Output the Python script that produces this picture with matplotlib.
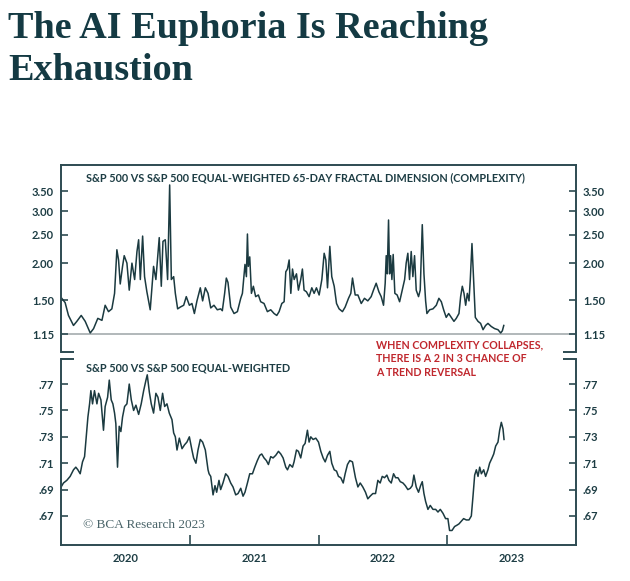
import numpy as np
import matplotlib.pyplot as plt
from matplotlib.ticker import FixedLocator, FixedFormatter, NullLocator

# 65-day fractal dimension (complexity), x in decimal years
fd_years = [2020.006, 2020.032, 2020.058, 2020.097, 2020.123, 2020.157, 2020.188, 2020.227,
            2020.253, 2020.286, 2020.318, 2020.343, 2020.369, 2020.395, 2020.416, 2020.434,
            2020.447, 2020.460, 2020.478, 2020.491, 2020.512, 2020.530, 2020.551, 2020.572,
            2020.590, 2020.603, 2020.616, 2020.634, 2020.649, 2020.667, 2020.693, 2020.719,
            2020.737, 2020.763, 2020.779, 2020.792, 2020.810, 2020.828, 2020.844, 2020.857,
            2020.875, 2020.888, 2020.906, 2020.927, 2020.953, 2020.973, 2020.997, 2021.017,
            2021.036, 2021.056, 2021.082, 2021.100, 2021.121, 2021.142, 2021.163, 2021.188,
            2021.214, 2021.240, 2021.253, 2021.271, 2021.284, 2021.297, 2021.318, 2021.344,
            2021.370, 2021.396, 2021.409, 2021.429, 2021.440, 2021.448, 2021.455, 2021.466,
            2021.479, 2021.494, 2021.512, 2021.533, 2021.551, 2021.577, 2021.603, 2021.629,
            2021.655, 2021.676, 2021.694, 2021.715, 2021.733, 2021.746, 2021.759, 2021.772,
            2021.785, 2021.798, 2021.811, 2021.829, 2021.844, 2021.862, 2021.875, 2021.888,
            2021.906, 2021.927, 2021.948, 2021.966, 2021.984, 2022.005, 2022.026, 2022.044,
            2022.057, 2022.070, 2022.088, 2022.103, 2022.122, 2022.140, 2022.160, 2022.186,
            2022.207, 2022.233, 2022.251, 2022.264, 2022.285, 2022.306, 2022.332, 2022.357,
            2022.383, 2022.409, 2022.427, 2022.448, 2022.469, 2022.487, 2022.505, 2022.518,
            2022.526, 2022.534, 2022.544, 2022.552, 2022.560, 2022.570, 2022.580, 2022.593,
            2022.611, 2022.630, 2022.650, 2022.669, 2022.681, 2022.694, 2022.707, 2022.720,
            2022.733, 2022.746, 2022.759, 2022.777, 2022.790, 2022.806, 2022.819, 2022.832,
            2022.842, 2022.863, 2022.889, 2022.915, 2022.935, 2022.954, 2022.972, 2022.992,
            2023.011, 2023.031, 2023.052, 2023.070, 2023.091, 2023.104, 2023.117, 2023.130,
            2023.143, 2023.156, 2023.169, 2023.179, 2023.192, 2023.205, 2023.218, 2023.239,
            2023.259, 2023.278, 2023.298, 2023.316, 2023.342, 2023.368, 2023.394, 2023.415,
            2023.428, 2023.439]
fd_values = [1.52, 1.47, 1.33, 1.23, 1.27, 1.33, 1.27, 1.16,
             1.20, 1.30, 1.28, 1.44, 1.37, 1.40, 1.58, 2.22,
             2.05, 1.70, 1.95, 2.12, 2.00, 1.62, 2.00, 1.76,
             2.19, 2.40, 1.76, 2.47, 1.80, 1.60, 1.39, 1.95,
             1.76, 2.44, 1.67, 2.37, 2.40, 1.76, 3.68, 1.76,
             1.80, 1.58, 1.40, 1.42, 1.44, 1.54, 1.44, 1.46,
             1.35, 1.49, 1.65, 1.49, 1.65, 1.58, 1.41, 1.44,
             1.39, 1.40, 1.38, 1.58, 1.78, 1.72, 1.42, 1.35,
             1.37, 1.52, 1.58, 1.98, 1.80, 2.51, 1.95, 2.10,
             1.58, 1.67, 1.54, 1.56, 1.48, 1.46, 1.37, 1.39,
             1.35, 1.33, 1.37, 1.46, 1.48, 1.87, 1.91, 2.05,
             1.58, 1.91, 1.76, 1.84, 1.62, 1.76, 1.91, 1.62,
             1.60, 1.54, 1.65, 1.58, 1.65, 1.56, 1.76, 2.16,
             2.05, 1.65, 2.28, 1.80, 1.67, 1.46, 1.40, 1.37,
             1.42, 1.52, 1.58, 1.78, 1.56, 1.56, 1.46, 1.52,
             1.49, 1.54, 1.62, 1.71, 1.60, 1.54, 1.44, 1.71,
             2.12, 1.84, 2.80, 1.84, 2.12, 1.76, 2.14, 1.58,
             1.56, 1.48, 1.62, 1.76, 2.00, 2.16, 1.76, 2.19,
             1.80, 2.12, 1.62, 1.54, 1.62, 2.70, 1.84, 1.49,
             1.35, 1.39, 1.40, 1.44, 1.52, 1.48, 1.39, 1.31,
             1.35, 1.31, 1.27, 1.30, 1.35, 1.54, 1.67, 1.58,
             1.44, 1.58, 1.49, 1.76, 2.33, 1.76, 1.31, 1.27,
             1.25, 1.19, 1.23, 1.25, 1.22, 1.20, 1.19, 1.16,
             1.18, 1.23]

# S&P 500 vs S&P 500 equal-weighted (relative level)
rel_years = [2020.001, 2020.019, 2020.045, 2020.071, 2020.097, 2020.115, 2020.131, 2020.149,
             2020.167, 2020.183, 2020.196, 2020.209, 2020.222, 2020.232, 2020.245, 2020.260,
             2020.279, 2020.292, 2020.310, 2020.330, 2020.343, 2020.362, 2020.375, 2020.390,
             2020.403, 2020.416, 2020.426, 2020.439, 2020.452, 2020.465, 2020.478, 2020.494,
             2020.512, 2020.530, 2020.546, 2020.564, 2020.582, 2020.603, 2020.623, 2020.642,
             2020.660, 2020.670, 2020.686, 2020.701, 2020.719, 2020.737, 2020.753, 2020.771,
             2020.789, 2020.805, 2020.823, 2020.841, 2020.862, 2020.875, 2020.888, 2020.901,
             2020.919, 2020.940, 2020.960, 2020.978, 2020.997, 2021.017, 2021.030, 2021.048,
             2021.064, 2021.082, 2021.100, 2021.121, 2021.142, 2021.150, 2021.163, 2021.181,
             2021.196, 2021.209, 2021.227, 2021.240, 2021.258, 2021.279, 2021.297, 2021.318,
             2021.336, 2021.357, 2021.375, 2021.396, 2021.414, 2021.429, 2021.448, 2021.466,
             2021.487, 2021.505, 2021.525, 2021.544, 2021.559, 2021.577, 2021.595, 2021.611,
             2021.629, 2021.647, 2021.668, 2021.689, 2021.707, 2021.725, 2021.746, 2021.759,
             2021.777, 2021.798, 2021.810, 2021.829, 2021.844, 2021.862, 2021.880, 2021.896,
             2021.914, 2021.927, 2021.940, 2021.958, 2021.979, 2022.000, 2022.018, 2022.036,
             2022.052, 2022.070, 2022.088, 2022.103, 2022.122, 2022.140, 2022.155, 2022.173,
             2022.192, 2022.207, 2022.225, 2022.243, 2022.264, 2022.287, 2022.306, 2022.324,
             2022.344, 2022.365, 2022.383, 2022.401, 2022.422, 2022.443, 2022.461, 2022.479,
             2022.495, 2022.513, 2022.531, 2022.547, 2022.565, 2022.583, 2022.599, 2022.617,
             2022.635, 2022.656, 2022.674, 2022.694, 2022.713, 2022.728, 2022.741, 2022.759,
             2022.777, 2022.793, 2022.806, 2022.819, 2022.832, 2022.850, 2022.868, 2022.889,
             2022.910, 2022.928, 2022.946, 2022.967, 2022.987, 2023.005, 2023.018, 2023.037,
             2023.057, 2023.075, 2023.091, 2023.109, 2023.127, 2023.148, 2023.169, 2023.187,
             2023.200, 2023.213, 2023.226, 2023.239, 2023.252, 2023.265, 2023.283, 2023.298,
             2023.316, 2023.329, 2023.348, 2023.361, 2023.376, 2023.394, 2023.407, 2023.420,
             2023.433, 2023.441]
rel_values = [0.692, 0.695, 0.697, 0.700, 0.705, 0.707, 0.705, 0.702,
              0.711, 0.715, 0.730, 0.745, 0.755, 0.765, 0.755, 0.765,
              0.755, 0.763, 0.758, 0.735, 0.753, 0.760, 0.773, 0.758,
              0.755, 0.748, 0.740, 0.707, 0.738, 0.734, 0.745, 0.753,
              0.755, 0.770, 0.758, 0.750, 0.754, 0.747, 0.755, 0.765,
              0.773, 0.777, 0.764, 0.755, 0.748, 0.763, 0.760, 0.750,
              0.763, 0.753, 0.755, 0.748, 0.743, 0.733, 0.730, 0.720,
              0.729, 0.721, 0.724, 0.726, 0.730, 0.720, 0.714, 0.710,
              0.720, 0.728, 0.726, 0.720, 0.705, 0.702, 0.700, 0.686,
              0.693, 0.688, 0.697, 0.690, 0.695, 0.702, 0.700, 0.695,
              0.692, 0.686, 0.687, 0.691, 0.685, 0.688, 0.695, 0.702,
              0.702, 0.707, 0.712, 0.716, 0.717, 0.714, 0.712, 0.709,
              0.715, 0.714, 0.716, 0.719, 0.717, 0.714, 0.707, 0.705,
              0.709, 0.707, 0.711, 0.720, 0.719, 0.714, 0.723, 0.725,
              0.735, 0.726, 0.730, 0.728, 0.729, 0.726, 0.719, 0.714,
              0.711, 0.716, 0.719, 0.710, 0.705, 0.704, 0.700, 0.699,
              0.695, 0.702, 0.709, 0.712, 0.711, 0.699, 0.692, 0.695,
              0.692, 0.688, 0.683, 0.685, 0.687, 0.687, 0.697, 0.695,
              0.700, 0.699, 0.701, 0.697, 0.695, 0.702, 0.699, 0.699,
              0.696, 0.695, 0.693, 0.690, 0.691, 0.693, 0.701, 0.692,
              0.688, 0.693, 0.696, 0.687, 0.681, 0.675, 0.678, 0.675,
              0.675, 0.673, 0.675, 0.672, 0.668, 0.668, 0.659, 0.659,
              0.662, 0.663, 0.664, 0.666, 0.668, 0.667, 0.667, 0.670,
              0.685, 0.701, 0.705, 0.700, 0.707, 0.702, 0.705, 0.700,
              0.705, 0.710, 0.714, 0.717, 0.723, 0.726, 0.735, 0.741,
              0.736, 0.728]

fd_ticks = [1.15, 1.50, 2.00, 2.50, 3.00, 3.50]
fd_labels = ['1.15', '1.50', '2.00', '2.50', '3.00', '3.50']
rel_ticks = [0.67, 0.69, 0.71, 0.73, 0.75, 0.77]
rel_labels = ['.67', '.69', '.71', '.73', '.75', '.77']
year_breaks = [2021, 2022, 2023]
year_mids = [2020.5, 2021.5, 2022.5, 2023.5]
year_labels = ['2020', '2021', '2022', '2023']

TEAL = '#1d3d44'
AXC = '#2d4b52'
LINE = '#1b3a40'
RED = '#c0272d'
GREY = '#a4acae'
SANS = 'Lato'

W, H = 630, 581
fig = plt.figure(figsize=(W / 100, H / 100), dpi=100)
fig.patch.set_facecolor('white')


def fpos(x, y):
    return x / W, 1 - y / H


# headline, two lines
for txt, base in (('The AI Euphoria Is Reaching', 38), ('Exhaustion', 80)):
    fig.text(*fpos(8, base), txt, fontsize=27.5, fontfamily='Liberation Serif',
             fontweight='bold', color='#143a43', va='baseline', ha='left')

ax1 = fig.add_axes([61 / W, 1 - 352 / H, 515 / W, 187 / H])
ax2 = fig.add_axes([61 / W, 1 - 545 / H, 515 / W, 186 / H])

ax1.plot(fd_years, fd_values, color=LINE, lw=1.1)
ax1.axhline(1.15, color=GREY, lw=1.2, zorder=0)
ax1.set_yscale('log')
ax1.set_ylim(1.0, 4.3)

ax2.plot(rel_years, rel_values, color=LINE, lw=1.1)
ax2.set_ylim(0.648, 0.789)

for ax in (ax1, ax2):
    ax.set_xlim(2020, 2024)
    for s in ax.spines.values():
        s.set_color(AXC)
        s.set_linewidth(1.4)
    ax.tick_params(axis='y', which='both', direction='in', length=5, width=1.2,
                   color=AXC, labelcolor=TEAL, labelsize=8, left=True, right=True,
                   labelleft=True, labelright=True, pad=5)

ax1.yaxis.set_major_locator(FixedLocator(fd_ticks))
ax1.yaxis.set_major_formatter(FixedFormatter(fd_labels))
ax1.yaxis.set_minor_locator(NullLocator())
ax1.xaxis.set_major_locator(NullLocator())
ax1.xaxis.set_minor_locator(NullLocator())
ax1.spines['bottom'].set_visible(False)

ax2.yaxis.set_major_locator(FixedLocator(rel_ticks))
ax2.yaxis.set_major_formatter(FixedFormatter(rel_labels))
ax2.spines['top'].set_visible(False)
ax2.xaxis.set_major_locator(FixedLocator(year_breaks))
ax2.xaxis.set_major_formatter(FixedFormatter(['', '', '']))
ax2.xaxis.set_minor_locator(FixedLocator(year_mids))
ax2.xaxis.set_minor_formatter(FixedFormatter(year_labels))
ax2.tick_params(axis='x', which='major', direction='in', length=7, width=1.2, color=AXC)
ax2.tick_params(axis='x', which='minor', length=0, pad=6, labelsize=8, labelcolor=TEAL)

for ax in (ax1, ax2):
    for lab in ax.get_yticklabels() + ax.get_xticklabels(which='both'):
        lab.set_fontfamily(SANS)
        lab.set_fontweight('bold')

# small stubs where the two panels meet
for x0, x1 in ((0, 0.025), (0.975, 1)):
    ax1.plot([x0, x1], [0, 0], transform=ax1.transAxes, color=AXC, lw=1.4,
             clip_on=False, solid_capstyle='butt')
    ax2.plot([x0, x1], [1, 1], transform=ax2.transAxes, color=AXC, lw=1.4,
             clip_on=False, solid_capstyle='butt')

fig.text(*fpos(86, 178), 'S&P 500 VS S&P 500 EQUAL-WEIGHTED 65-DAY FRACTAL DIMENSION (COMPLEXITY)',
         fontsize=7.8, fontfamily=SANS, fontweight='bold', color=TEAL, va='center')
fig.text(*fpos(86, 368), 'S&P 500 VS S&P 500 EQUAL-WEIGHTED',
         fontsize=7.8, fontfamily=SANS, fontweight='bold', color=TEAL, va='center')
fig.text(*fpos(376, 358.5), 'WHEN COMPLEXITY COLLAPSES,\nTHERE IS A 2 IN 3 CHANCE OF\nA TREND REVERSAL',
         fontsize=7.7, fontfamily=SANS, fontweight='bold', color=RED, va='center',
         linespacing=1.35)
fig.text(*fpos(83, 525), '\u00a9 BCA Research 2023', fontsize=9.5,
         fontfamily='Liberation Serif', color='#4a6469', va='center')

fig.savefig('out.png', dpi=100, facecolor='white')
